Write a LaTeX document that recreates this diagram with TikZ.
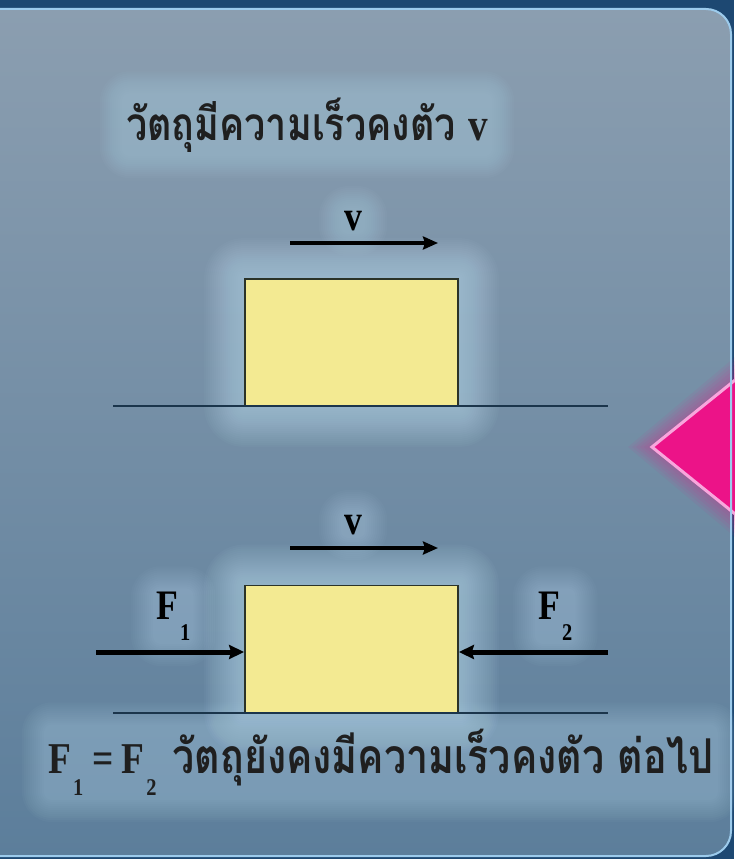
\documentclass[tikz,border=0pt]{standalone}
\usepackage{fontspec}
\usepackage{tikz}
\usetikzlibrary{positioning,arrows.meta}
\setmainfont{Liberation Serif}[FakeStretch=0.85]
\newfontfamily\thaifont[Script=Thai,FakeStretch=0.82]{Loma}
\newcommand{\Fsub}[1]{F\hspace{2pt}\raisebox{-0.52em}{\fontsize{24}{24}\selectfont #1}}

\definecolor{navy}{HTML}{1D4872}
\definecolor{paneltop}{HTML}{8B9EB0}
\definecolor{panelbot}{HTML}{5C7E9B}
\definecolor{rimc}{HTML}{9CCBEC}
\definecolor{glowc}{HTML}{C4E6F8}
\definecolor{boxfill}{HTML}{F3EA92}
\definecolor{boxline}{HTML}{2B3328}
\definecolor{groundc}{HTML}{1B354B}
\definecolor{pinkc}{HTML}{EC1388}
\definecolor{pinkrim}{HTML}{F8A6DC}

\pgfdeclarelayer{back}
\pgfdeclarelayer{halo}
\pgfsetlayers{back,halo,main}

\begin{document}
\begin{tikzpicture}[
  x=1pt, y=-1pt,
  block/.style={draw=boxline, fill=boxfill, line width=1.8pt, minimum width=213pt, minimum height=127pt, inner sep=0pt},
  lbl/.style={font=\fontsize{42}{42}\selectfont\bfseries, inner sep=1pt},
  thai/.style={font=\fontsize{46}{46}\selectfont\thaifont\bfseries, text=black!88, inner sep=2pt},
  varrow/.style={line width=3.5pt, -{Stealth[length=15pt,width=13pt,inset=2pt]}},
  farrow/.style={line width=5pt, -{Stealth[length=15pt,width=14pt,inset=2pt]}},
  ground/.style={draw=groundc, line width=2.6pt}
]
  \useasboundingbox (0,0) rectangle (734,859);

  % panel
  \begin{pgfonlayer}{back}
    \fill[navy] (0,0) rectangle (734,859);
    \shade[top color=paneltop, bottom color=panelbot, rounded corners=25pt]
      (-40,9) -- (731,9) -- (731,856) -- (-40,856) -- cycle;
    % pointer on the right
    \foreach \g in {4,8,...,24}
      \fill[pinkc, opacity=0.06] (652-\g,447) -- (760,360-\g) -- (760,534+\g) -- cycle;
    \fill[pinkc, draw=pinkrim, line width=3pt, line join=miter]
      (652,447) -- (760,360) -- (760,534) -- cycle;
    \draw[rimc, line width=2pt, rounded corners=25pt]
      (-40,9) -- (731,9) -- (731,856) -- (-40,856);
  \end{pgfonlayer}

  % blocks
  \node[block] (blockA) at (351.5,342.5) {};
  \node[block] (blockB) at (351.5,649) {};
  \draw[ground] (113,406) -- (608,406);
  \draw[ground] (113,713) -- (608,713);

  % first case
  \node[thai, anchor=base west] (title) at (124,140) {วัตถุมีความเร็วคงตัว {\rmfamily\bfseries v}};
  \node[lbl] (vA) at (353,221) {v};
  \coordinate (vA0) at (290,243);
  \coordinate (vA1) at (438,243);
  \draw[varrow] (vA0) -- (vA1);

  % second case
  \node[lbl] (vB) at (353,525) {v};
  \coordinate (vB0) at (290,548);
  \coordinate (vB1) at (438,548);
  \draw[varrow] (vB0) -- (vB1);
  \node[lbl, anchor=base west] (F1) at (155,619) {\Fsub{1}};
  \node[lbl, anchor=base west] (F2) at (537,619) {\Fsub{2}};
  \coordinate (F1tail) at (96,652);
  \coordinate (F2tail) at (608,652);
  \draw[farrow] (F1tail) -- (F1tail -| blockB.west);
  \draw[farrow] (F2tail) -- (F2tail -| blockB.east);

  \node[thai, font=\fontsize{48}{48}\selectfont\thaifont\bfseries, anchor=base west] (result) at (46,773)
    {{\rmfamily\bfseries\fontsize{44}{44}\selectfont\Fsub{1}\hspace{9pt}=\hspace{8pt}\Fsub{2}}\hspace{16pt}วัตถุยังคงมีความเร็วคงตัว ต่อไป};

  % soft light behind the drawing
  \begin{pgfonlayer}{halo}
    \foreach \n in {blockA,blockB}
      \foreach \g in {2,4,...,40}
        \fill[glowc, opacity=0.035, rounded corners=\g pt]
          ([shift={(-\g pt,\g pt)}]\n.north west) rectangle ([shift={(\g pt,-\g pt)}]\n.south east);
    \foreach \n in {title,result,vA,vB,F1,F2}
      \foreach \g in {2,4,...,24}
        \fill[glowc, opacity=0.03, rounded corners=\g pt+6pt]
          ([shift={(-\g pt,\g pt)}]\n.north west) rectangle ([shift={(\g pt,-\g pt)}]\n.south east);
  \end{pgfonlayer}
\end{tikzpicture}
\end{document}
